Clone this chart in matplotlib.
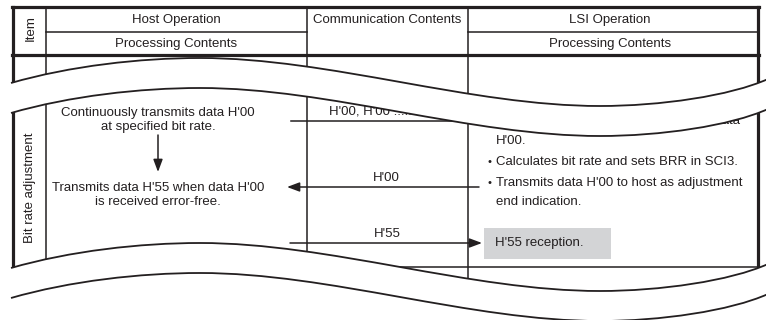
import numpy as np
import matplotlib.pyplot as plt
from matplotlib.path import Path
from matplotlib.patches import PathPatch, Rectangle

plt.rcParams['font.family'] = ['Liberation Sans', 'DejaVu Sans']

# Textos do diagrama
header_top = ["Host Operation", "Communication Contents", "LSI Operation"]
header_sub = ["Processing Contents", "Processing Contents"]
item_header = "Item"
item_name = "Bit rate adjustment"
host_lines = ["Continuously transmits data H'00", "at specified bit rate.",
              "Transmits data H'55 when data H'00", "is received error-free."]
comm_labels = ["H'00, H'00 ..... H'00", "H'00", "H'55"]
lsi_bullets = [["Measures low-level period of receive data", "H'00."],
               ["Calculates bit rate and sets BRR in SCI3."],
               ["Transmits data H'00 to host as adjustment", "end indication."]]
lsi_end = "H'55 reception."

INK = '#231f20'
FS = 9.5

# ----------------------------------------------------------------------------------

# Layout (pixels)
x_left, x_item, x_host, x_comm, x_right = 13, 46, 307, 468, 758
y_top, y_mid_head, y_head, y_row_end = 7, 32, 55, 267

# Forma da quebra (curva de Bezier)
wave_ctrl = np.array([(11, 83), (70, 66), (140, 58), (200, 58), (330, 58),
                      (470, 106), (600, 106), (660, 106), (730, 96), (768, 79)], float)
band_gap = 30
second_break = 185

def wave_path(dy):
    v = wave_ctrl + [0, dy]
    return v, [Path.MOVETO] + [Path.CURVE4] * (len(v) - 1)

def band_path(dy, bottom=None):
    up, cu = wave_path(dy)
    if bottom is None:
        lo, _ = wave_path(dy + band_gap)
        verts = list(up) + list(lo[::-1]) + [up[0]]
        codes = cu + [Path.LINETO] + [Path.CURVE4] * (len(lo) - 1) + [Path.CLOSEPOLY]
    else:
        verts = list(up) + [(up[-1][0], bottom), (up[0][0], bottom), up[0]]
        codes = cu + [Path.LINETO, Path.LINETO, Path.CLOSEPOLY]
    return Path(verts, codes)

# ----------------------------------------------------------------------------------

fig = plt.figure(figsize=(7.66, 3.2), dpi=100)
ax = fig.add_axes([0, 0, 1, 1])
ax.set_xlim(0, 766)
ax.set_ylim(320, 0)
ax.axis('off')

thick, thin = 2.3, 1.1
# moldura e cabeçalho
ax.plot([x_left - 1, x_right + 1], [y_top, y_top], color=INK, lw=thick)
ax.plot([x_left - 1, x_right + 1], [y_head, y_head], color=INK, lw=thick)
ax.plot([x_left, x_left], [y_top, 330], color=INK, lw=thick)
ax.plot([x_right, x_right], [y_top, 330], color=INK, lw=thick)
ax.plot([x_item, x_host], [y_mid_head, y_mid_head], color=INK, lw=thin)
ax.plot([x_comm, x_right], [y_mid_head, y_mid_head], color=INK, lw=thin)
for xv in (x_item, x_host, x_comm):
    ax.plot([xv, xv], [y_top, 330], color=INK, lw=thin)
ax.plot([x_left, x_right], [y_row_end, y_row_end], color=INK, lw=thin)

ax.text(31, 28, item_header, rotation=90, ha='center', va='center', fontsize=FS, color=INK)
ax.text(176, 20, header_top[0], ha='center', va='center', fontsize=FS, color=INK)
ax.text(387, 20, header_top[1], ha='center', va='center', fontsize=FS, color=INK)
ax.text(610, 20, header_top[2], ha='center', va='center', fontsize=FS, color=INK)
ax.text(176, 44, header_sub[0], ha='center', va='center', fontsize=FS, color=INK)
ax.text(610, 44, header_sub[1], ha='center', va='center', fontsize=FS, color=INK)

# coluna do item
ax.text(30, 188, item_name, rotation=90, ha='center', va='center', fontsize=FS, color=INK)

# host
for txt, yv in zip(host_lines, [113, 127, 188, 202]):
    ax.text(158, yv, txt, ha='center', va='center', fontsize=FS, color=INK)

def arrow(x0, y0, x1, y1):
    ax.annotate("", xy=(x1, y1), xytext=(x0, y0),
                arrowprops=dict(arrowstyle="-|>,head_length=0.75,head_width=0.28",
                                mutation_scale=10, color=INK, lw=1.1,
                                shrinkA=0, shrinkB=0))

arrow(158, 135, 158, 172)

# comunicação
ax.plot([291, 482], [121, 121], color=INK, lw=thin)
ax.text(329, 112, comm_labels[0], ha='left', va='center', fontsize=FS, color=INK)
arrow(479, 187, 287, 187)
ax.text(386, 178, comm_labels[1], ha='center', va='center', fontsize=FS, color=INK)
arrow(290, 243, 482, 243)
ax.text(387, 234, comm_labels[2], ha='center', va='center', fontsize=FS, color=INK)

# LSI
lsi_y = [[121, 141], [162], [183, 202]]
for lines, ys in zip(lsi_bullets, lsi_y):
    ax.text(487, ys[0], "•", ha='left', va='center', fontsize=FS - 1.5, color=INK)
    for txt, yv in zip(lines, ys):
        ax.text(496, yv, txt, ha='left', va='center', fontsize=FS, color=INK)

ax.add_patch(Rectangle((484, 228), 127, 31, facecolor='#d3d4d6', edgecolor='none'))
ax.text(495, 243, lsi_end, ha='left', va='center', fontsize=FS, color=INK)

# quebras
ax.add_patch(PathPatch(band_path(0), facecolor='white', edgecolor='none', zorder=5))
ax.add_patch(PathPatch(band_path(second_break, bottom=330), facecolor='white',
                       edgecolor='none', zorder=5))
for dy in (0, band_gap, second_break, second_break + band_gap):
    v, c = wave_path(dy)
    ax.add_patch(PathPatch(Path(v, c), facecolor='none', edgecolor=INK, lw=1.3, zorder=6))

fig.savefig("out.png", dpi=100)
